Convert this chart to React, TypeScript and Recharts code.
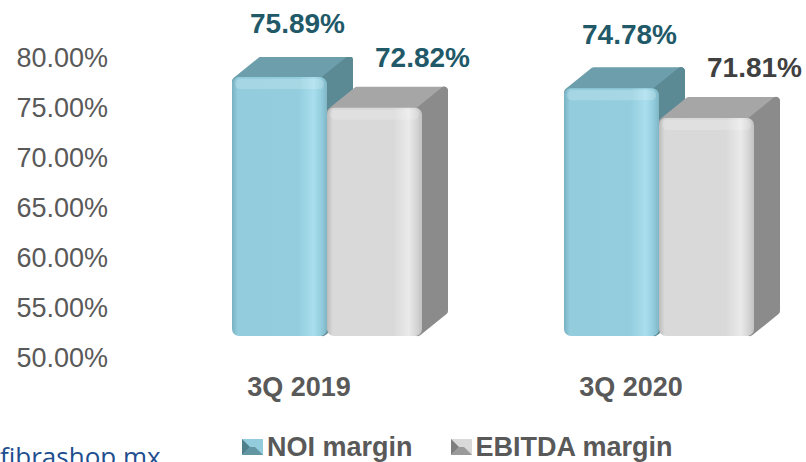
import React from 'react';
import { BarChart, Bar, XAxis, YAxis, Legend, LabelList } from 'recharts';

// chart values
const categories = ['3Q 2019', '3Q 2020'];
const noiMargin = [75.89, 74.78];
const ebitdaMargin = [72.82, 71.81];
const yTicks = [50, 55, 60, 65, 70, 75, 80];
const seriesNames = ['NOI margin', 'EBITDA margin'];

const data = categories.map((category, i) => ({
  category,
  noi: noiMargin[i],
  ebitda: ebitdaMargin[i],
}));

// 3D offset of the depth faces
const DX = 26;
const DY = 21;

const FONT = '"Liberation Sans", Arial, sans-serif';
const AXIS_GRAY = '#595959';

const NOI = {
  id: 'noi',
  stops: ['#78b1c1', '#93cddd', '#94cede', '#a9deee', '#93cddd', '#7fb6c6'],
  top: '#6d9eab',
  side: '#5b8994',
};
const EBITDA = {
  id: 'ebitda',
  stops: ['#bcbcbc', '#d9d9d9', '#d9d9d9', '#eaeaea', '#d6d6d6', '#c2c2c2'],
  top: '#a6a6a6',
  side: '#8b8b8b',
};

const Bar3D = (props: any) => {
  const { x, y, width, height, palette } = props;
  if (height <= 0) return null;
  const fy = y - DY;
  const r = 4;
  const top = `${x + r},${fy + r} ${x + DX + r},${fy - DY + r} ${x + width + DX - r},${fy - DY + r} ${x + width - r},${fy + r}`;
  const side = `${x + width - r},${fy + r} ${x + width + DX - r},${fy - DY + r} ${x + width + DX - r},${fy + height - DY - r} ${x + width - r},${fy + height - r}`;
  return (
    <g>
      <polygon points={top} fill={palette.top} stroke={palette.top} strokeWidth={r * 2} strokeLinejoin="round" />
      <polygon points={side} fill={palette.side} stroke={palette.side} strokeWidth={r * 2} strokeLinejoin="round" />
      <rect x={x} y={fy} width={width} height={height} rx={7} fill={`url(#front-${palette.id})`} />
      <rect x={x + 3} y={fy + 2} width={width - 6} height={10} rx={5} fill="#ffffff" opacity={0.18} />
    </g>
  );
};

const makeLabel = (dx: number, lift: number, colors: string[]) => (props: any) => {
  const { x, y, width, value, index } = props;
  return (
    <text
      x={x + width / 2 + dx}
      y={y - DY - lift}
      textAnchor="middle"
      dominantBaseline="central"
      fontFamily={FONT}
      fontWeight="bold"
      fontSize={28}
      fill={colors[index] || colors[0]}
    >
      {value.toFixed(2)}%
    </text>
  );
};

const CategoryTick = ({ x, y, payload }: any) => (
  <text
    x={x - 28}
    y={y + 30}
    textAnchor="middle"
    dominantBaseline="central"
    fontFamily={FONT}
    fontWeight="bold"
    fontSize={27}
    fill={AXIS_GRAY}
  >
    {payload.value}
  </text>
);

const LegendIcon = ({ light, dark }: { light: string; dark: string }) => (
  <svg width={21} height={16} style={{ marginRight: 4 }}>
    <rect x={0} y={0} width={21} height={16} fill={light} />
    <polygon points="0,0 8,8 0,16" fill={dark} />
    <polygon points="0,16 8,8 13,8 21,16" fill={dark} opacity={0.7} />
  </svg>
);

const renderLegend = () => (
  <div style={{ display: 'flex', alignItems: 'center', height: 30, fontFamily: FONT, fontWeight: 'bold', fontSize: 27, color: AXIS_GRAY }}>
    <LegendIcon light="#93cddd" dark="#4f7f8a" />
    <span style={{ marginRight: 38 }}>{seriesNames[0]}</span>
    <LegendIcon light="#d9d9d9" dark="#7f7f7f" />
    <span>{seriesNames[1]}</span>
  </div>
);

export default function App() {
  return (
    <div style={{ position: 'relative', width: 806, height: 462, overflow: 'hidden', background: '#fff' }}>
      <style>{`body{margin:0}`}</style>
      <BarChart width={825} height={462} data={data} margin={{ top: 57, right: 0, left: 0, bottom: 0 }} barGap={0}>
        <defs>
          {[NOI, EBITDA].map((p) => (
            <linearGradient key={p.id} id={`front-${p.id}`} x1="0" y1="0" x2="1" y2="0">
              <stop offset="0%" stopColor={p.stops[0]} />
              <stop offset="6%" stopColor={p.stops[1]} />
              <stop offset="70%" stopColor={p.stops[2]} />
              <stop offset="86%" stopColor={p.stops[3]} />
              <stop offset="94%" stopColor={p.stops[4]} />
              <stop offset="100%" stopColor={p.stops[5]} />
            </linearGradient>
          ))}
        </defs>
        <XAxis
          dataKey="category"
          axisLine={false}
          tickLine={false}
          tickSize={0}
          tickMargin={0}
          height={75}
          padding={{ left: 53, right: 0 }}
          tick={<CategoryTick />}
          interval={0}
        />
        <YAxis
          domain={[50, 80]}
          ticks={yTicks}
          allowDataOverflow
          axisLine={false}
          tickLine={false}
          tickSize={0}
          tickMargin={0}
          width={108}
          tickFormatter={(v: number) => `${v.toFixed(2)}%`}
          tick={{ fill: AXIS_GRAY, fontSize: 27, fontFamily: FONT }}
        />
        <Legend content={renderLegend} verticalAlign="bottom" wrapperStyle={{ left: 242, width: 480, bottom: 0, height: 30 }} />
        <Bar dataKey="noi" name={seriesNames[0]} barSize={95} isAnimationActive={false} shape={(p: any) => <Bar3D {...p} palette={NOI} />}>
          <LabelList dataKey="noi" content={makeLabel(18, 54, ['#215968'])} />
        </Bar>
        <Bar dataKey="ebitda" name={seriesNames[1]} barSize={95} isAnimationActive={false} shape={(p: any) => <Bar3D {...p} palette={EBITDA} />}>
          <LabelList dataKey="ebitda" content={makeLabel(48, 50, ['#215968', '#404040'])} />
        </Bar>
      </BarChart>
      <div style={{ position: 'absolute', left: 0, top: 441, fontFamily: '"Open Sans", sans-serif', fontSize: 26, lineHeight: '30px', color: '#1f4e8f', whiteSpace: 'nowrap' }}>
        fibrashop.mx
      </div>
    </div>
  );
}
